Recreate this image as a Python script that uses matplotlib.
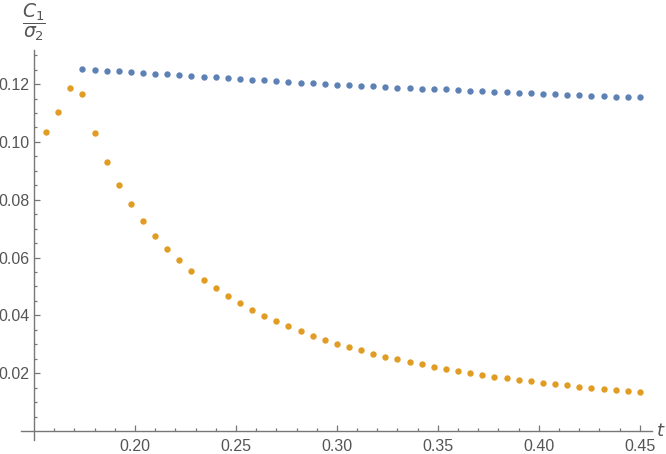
import numpy as np
import matplotlib.pyplot as plt
from matplotlib.ticker import FixedLocator, FormatStrFormatter

# sample times
t_orange = np.round(np.arange(50) * 0.006 + 0.156, 3)
t_blue = t_orange[3:]

# values
y_orange = [0.1034, 0.1103, 0.1186, 0.1165, 0.1030, 0.0930, 0.0850, 0.0784,
            0.0727, 0.0674, 0.0630, 0.0591, 0.0553, 0.0521, 0.0494, 0.0466,
            0.0442, 0.0418, 0.0397, 0.0380, 0.0362, 0.0345, 0.0328, 0.0314,
            0.0300, 0.0290, 0.0279, 0.0265, 0.0255, 0.0248, 0.0238, 0.0231,
            0.0220, 0.0213, 0.0207, 0.0200, 0.0193, 0.0186, 0.0182, 0.0175,
            0.0172, 0.0165, 0.0162, 0.0158, 0.0151, 0.0148, 0.0144, 0.0141,
            0.0137, 0.0134]
y_blue = [0.1252, 0.1248, 0.1245, 0.1245, 0.1241, 0.1238, 0.1234, 0.1234,
          0.1231, 0.1227, 0.1224, 0.1224, 0.1220, 0.1217, 0.1214, 0.1214,
          0.1210, 0.1207, 0.1203, 0.1203, 0.1200, 0.1196, 0.1196, 0.1193,
          0.1193, 0.1189, 0.1186, 0.1186, 0.1182, 0.1182, 0.1182, 0.1179,
          0.1176, 0.1176, 0.1172, 0.1172, 0.1169, 0.1169, 0.1165, 0.1165,
          0.1162, 0.1162, 0.1158, 0.1158, 0.1155, 0.1155, 0.1155, 0.1151]
y_blue = y_blue[:len(t_blue)]

x_major = [0.20, 0.25, 0.30, 0.35, 0.40, 0.45]
y_major = [0.02, 0.04, 0.06, 0.08, 0.10, 0.12]

plt.rcParams['font.family'] = ['Liberation Sans', 'DejaVu Sans']
grey = '#555555'
axis_col = '#777777'

fig = plt.figure(figsize=(6.66, 4.54), dpi=100)
ax = fig.add_axes([21 / 666, 14 / 454, 631 / 666, 390 / 454])

ax.plot(t_blue, y_blue, 'o', color='#5E81B5', ms=4.6, mec='none')
ax.plot(t_orange, y_orange, 'o', color='#E19C24', ms=4.6, mec='none')

ax.set_xlim(0.1436, 0.456)
ax.set_ylim(-0.0031, 0.1318)

for s in ['top', 'right']:
    ax.spines[s].set_visible(False)
ax.spines['left'].set_position(('data', 0.15))
ax.spines['bottom'].set_position(('data', 0.0))
for s in ['left', 'bottom']:
    ax.spines[s].set_color(axis_col)
    ax.spines[s].set_linewidth(1.0)

ax.xaxis.set_major_locator(FixedLocator(x_major))
ax.xaxis.set_minor_locator(FixedLocator([0.15 + 0.01 * i for i in range(1, 31)
                                         if (i % 5) != 0]))
ax.yaxis.set_major_locator(FixedLocator(y_major))
ax.yaxis.set_minor_locator(FixedLocator([0.005 * i for i in range(1, 27)
                                         if (i % 4) != 0]))
ax.xaxis.set_major_formatter(FormatStrFormatter('%.2f'))
ax.yaxis.set_major_formatter(FormatStrFormatter('%.2f'))

ax.tick_params(which='both', direction='in', color=axis_col, width=0.9,
               labelcolor=grey, labelsize=11.5)
ax.tick_params(which='major', length=4.5)
ax.tick_params(which='minor', length=2.5)
ax.tick_params(axis='x', pad=6)
ax.tick_params(axis='y', pad=3)

fig.text(34 / 666, 1 - 22 / 454, r'$\dfrac{C_1}{\sigma_2}$', color=grey,
         fontsize=13.5, ha='center', va='center')
fig.text(661 / 666, 1 - 431 / 454, r'$t$', color=grey, fontsize=13,
         ha='center', va='center')

fig.savefig('out.png', dpi=100)
